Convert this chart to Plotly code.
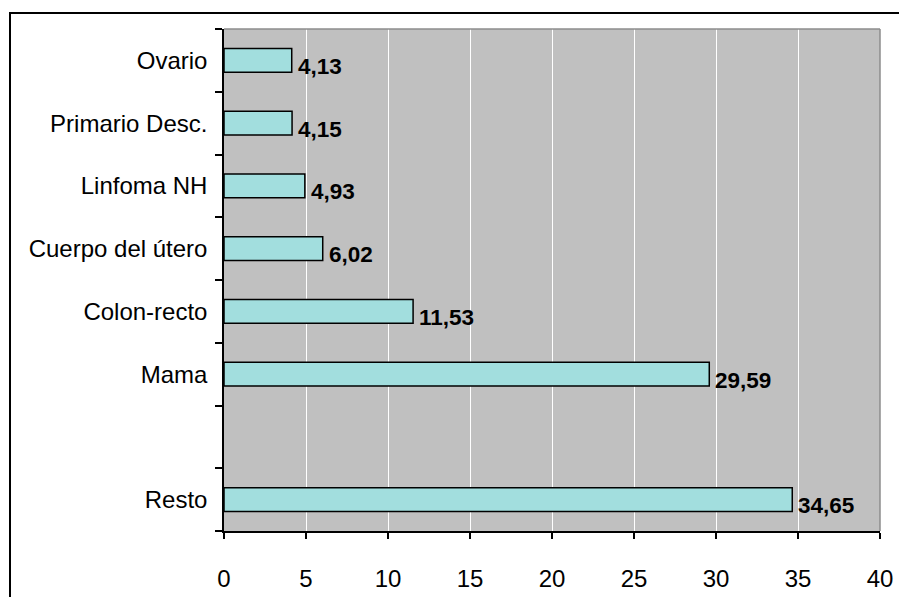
import plotly.graph_objects as go

categories = ["Resto", " ", "Mama", "Colon-recto", "Cuerpo del útero", "Linfoma NH", "Primario Desc.", "Ovario"]
values = [34.65, None, 29.59, 11.53, 6.02, 4.93, 4.15, 4.13]
x_ticks = [0, 5, 10, 15, 20, 25, 30, 35, 40]

labels = ["" if v is None else f"{v:.2f}".replace(".", ",") for v in values]

W, H = 899, 597
L, R, T, B = 224, 19, 29, 66
pw, ph = W - L - R, H - T - B

fig = go.Figure(go.Bar(
    y=categories, x=values, orientation="h",
    marker=dict(color="#A2DEDE", line=dict(color="black", width=1.5)),
    hoverinfo="x+y",
))

for c, v, t in zip(categories, values, labels):
    if v is None:
        continue
    fig.add_annotation(
        x=v, y=c, xref="x", yref="y", text=t, showarrow=False,
        xanchor="left", yanchor="middle", xshift=4, yshift=-6,
        font=dict(family="Liberation Sans, Arial", size=22.5, color="black", weight="bold"),
    )

fig.update_layout(
    width=W, height=H,
    margin=dict(l=L, r=R, t=T, b=B, pad=0, autoexpand=False),
    paper_bgcolor="white", plot_bgcolor="#C0C0C0",
    bargap=0.62, showlegend=False,
    font=dict(family="Liberation Sans, Arial", size=24, color="black"),
)
fig.update_xaxes(
    range=[0, 40], tickvals=x_ticks, showgrid=True, gridcolor="white", gridwidth=1,
    zeroline=False, showline=True, linecolor="black", linewidth=1.5,
    ticks="outside", ticklen=6, tickcolor="black", tickwidth=1.5,
    ticklabelstandoff=19, automargin=False,
)
fig.update_yaxes(
    type="category", categoryorder="array", categoryarray=categories,
    tickson="boundaries", showgrid=False, zeroline=False,
    showline=True, linecolor="black", linewidth=1.5,
    ticks="outside", ticklen=7, tickcolor="black", tickwidth=1.5,
    ticklabelstandoff=10, automargin=False,
)

# plot area gray border (top and right)
fig.add_shape(type="line", xref="paper", yref="paper", x0=0, x1=1, y0=1, y1=1,
              line=dict(color="#8C8C8C", width=1.5))
fig.add_shape(type="line", xref="paper", yref="paper", x0=1, x1=1, y0=0, y1=1,
              line=dict(color="#8C8C8C", width=1.5))

# outer chart border (extends beyond the visible window on right and bottom)
bx0 = (10 - L) / pw
by1 = 1 + (T - 13) / ph
fig.add_shape(type="rect", xref="paper", yref="paper",
              x0=bx0, x1=(W + 20 - L) / pw, y0=-(B + 20) / ph, y1=by1,
              line=dict(color="black", width=2), layer="above")

fig.write_html("out.html", config={"displayModeBar": False},
               post_script="document.body.style.margin='0';document.body.style.overflow='hidden';")
